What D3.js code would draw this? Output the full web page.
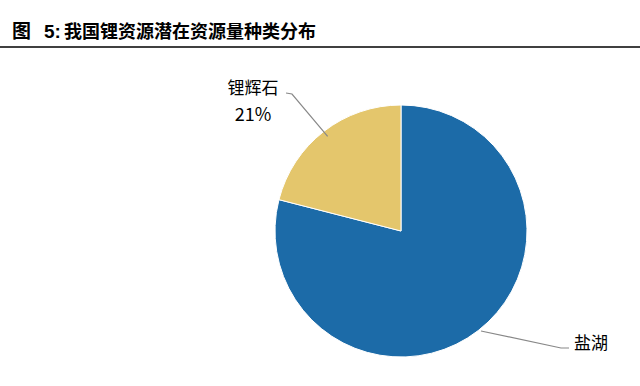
<!DOCTYPE html>
<html>
<head>
<meta charset="utf-8">
<script src="https://cdn.jsdelivr.net/npm/d3@7"></script>
<style>
  body { margin: 0; background: #fff; }
  text { font-family: "Noto Sans CJK SC", "Liberation Sans", sans-serif; white-space: pre; }
</style>
</head>
<body>
<svg id="chart" width="640" height="386"></svg>
<script>
// data
var categories = ["盐湖", "锂辉石"];
var shares = [79, 21];
var colors = ["#1c6ba8", "#e4c66c"];

var svg = d3.select("#chart");

// title + rule
var title = svg.append("text")
    .attr("y", 38)
    .attr("font-size", 19).attr("font-weight", "bold");
title.append("tspan").attr("x", 12).text("图");
title.append("tspan").attr("x", 44).attr("font-family", "Liberation Sans, Arial, sans-serif").text("5:");
title.append("tspan").attr("x", 64).attr("font-size", 18).text("我国锂资源潜在资源量种类分布");
svg.append("line")
    .attr("x1", 0).attr("x2", 640)
    .attr("y1", 47).attr("y2", 47)
    .attr("stroke", "#000").attr("stroke-width", 1.5);

var cx = 401, cy = 231, r = 126;
var g = svg.append("g").attr("transform", "translate(" + cx + "," + cy + ")");

var pie = d3.pie().sort(null).value(function (d) { return d; });
var arcs = pie(shares);
var arc = d3.arc().innerRadius(0).outerRadius(r);

g.selectAll("path")
    .data(arcs)
    .enter().append("path")
    .attr("d", arc)
    .attr("fill", function (d, i) { return colors[i]; })
    .attr("stroke", "#fff").attr("stroke-width", 1);

// leader lines
function pt(a, rad) { return [rad * Math.sin(a), -rad * Math.cos(a)]; }

// 锂辉石
var a1 = (arcs[1].startAngle + arcs[1].endAngle) / 2;
var p1 = pt(a1, r * 0.95);
g.append("polyline")
    .attr("points", [p1, [-109, -137], [-115, -138]].map(function (p) { return p.join(","); }).join(" "))
    .attr("fill", "none").attr("stroke", "#888").attr("stroke-width", 1.2);
g.append("text").attr("x", -148).attr("y", -137)
    .attr("text-anchor", "middle").attr("font-size", 17)
    .text(categories[1]);
g.append("text").attr("x", -148).attr("y", -110)
    .attr("text-anchor", "middle").attr("font-size", 18)
    .attr("font-family", "Liberation Sans, Arial, sans-serif")
    .text(shares[1] + "%");

// 盐湖
var p0 = [80, 100];
g.append("polyline")
    .attr("points", [p0, [160, 117], [168, 117]].map(function (p) { return p.join(","); }).join(" "))
    .attr("fill", "none").attr("stroke", "#888").attr("stroke-width", 1.2);
g.append("text").attr("x", 190).attr("y", 118)
    .attr("text-anchor", "middle").attr("font-size", 17)
    .text(categories[0]);
</script>
</body>
</html>
